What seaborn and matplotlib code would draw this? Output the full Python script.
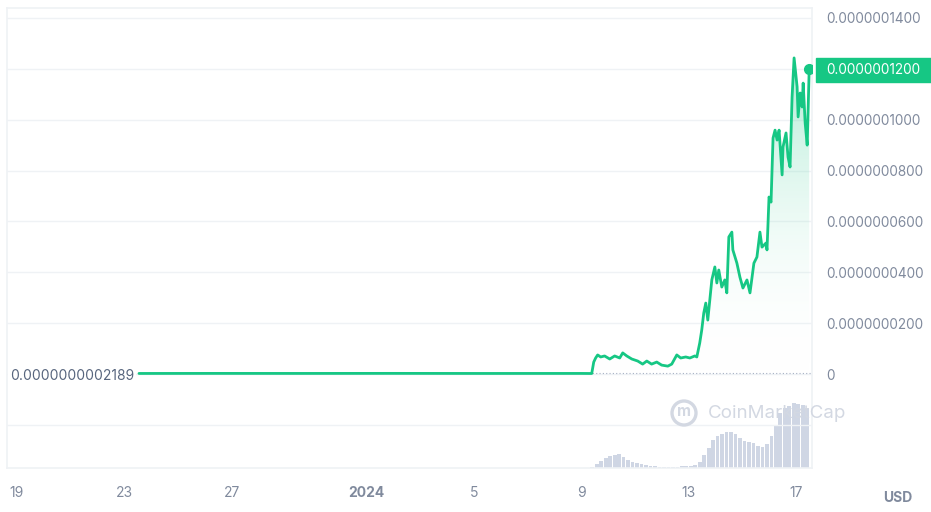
import numpy as np
import pandas as pd
import matplotlib
matplotlib.use("Agg")
import matplotlib.pyplot as plt
import matplotlib.dates as mdates
import seaborn as sns

# ---------------- data ----------------
# hours relative to 2024-01-09 00:00 UTC
price_hours = [-395, -330, -250, -170, -90, 0, 9.5, 11.3, 13, 14.8, 17.5, 21, 25.6, 30, 34.5, 37.2,
               40.8, 45.3, 50.6, 55, 58.7, 63, 67.6, 72, 77.5, 81, 85.5, 89, 93.5, 97.2,
               101.6, 103.4, 106, 107.8, 109.6, 111.4, 113.2, 116.8, 119.5, 121.3, 123,
               125.7, 128.4, 130.2, 132, 134.7, 135.6, 139.2, 141.9, 144.6, 148.2, 150.9,
               154.4, 157.1, 159.8, 161.6, 165.2, 166.1, 167.9, 169.7, 171.5, 173.3, 175.1,
               176.9, 179.6, 180.4, 183.1, 184.9, 186.7, 188.5, 190.3, 193, 193.9, 195.7,
               197.5, 198.4, 200.2, 202, 203.8]
price_usd = [2.189e-10, 2.4e-10, 2.3e-10, 2.5e-10, 2.2e-10, 2.3e-10, 2.0e-10, 4.7e-9, 6.3e-9, 7.5e-9,
             6.7e-9, 7.1e-9, 5.9e-9, 7.1e-9, 6.3e-9, 8.3e-9,
             7.1e-9, 5.9e-9, 5.1e-9, 3.9e-9, 5.1e-9, 3.9e-9, 4.7e-9, 3.5e-9, 3.1e-9, 3.9e-9,
             7.5e-9, 6.3e-9, 6.7e-9, 6.3e-9,
             7.1e-9, 6.7e-9, 1.22e-8, 1.73e-8, 2.40e-8, 2.79e-8, 2.12e-8, 3.70e-8, 4.21e-8,
             3.58e-8, 4.09e-8,
             3.42e-8, 3.70e-8, 3.19e-8, 5.39e-8, 5.58e-8, 4.88e-8, 4.36e-8, 3.81e-8, 3.38e-8,
             3.70e-8, 3.19e-8,
             4.36e-8, 4.60e-8, 5.58e-8, 4.99e-8, 5.15e-8, 4.88e-8, 6.96e-8, 6.76e-8, 9.28e-8,
             9.59e-8, 9.20e-8,
             9.59e-8, 7.83e-8, 8.93e-8, 9.48e-8, 8.53e-8, 8.14e-8, 10.89e-8, 12.43e-8, 11.29e-8,
             10.11e-8, 11.05e-8,
             10.50e-8, 11.44e-8, 9.87e-8, 9.00e-8, 12.00e-8]

vol_hours = [10, 14, 18, 22, 26, 30, 34, 38, 42, 46, 50, 54, 58, 62, 66, 70, 74, 78, 82, 86,
             90, 94, 98, 102, 106, 110, 114, 118, 122, 126, 130, 134, 138, 142, 146, 150,
             154, 158, 162, 166, 170, 174, 178, 182, 186, 190, 194, 198, 202]
volume = [1, 4, 7, 10, 12, 13, 14, 11, 8, 6, 5, 4, 3, 2, 2, 1.5, 1, 1, 1, 1.5,
          2, 2, 2.5, 3, 6, 13, 20, 28, 32, 34, 36, 36, 34, 30, 27, 26,
          25, 22, 21, 24, 32, 42, 55, 60, 62, 65, 64, 63, 60]

ytick_vals = [0, 2e-8, 4e-8, 6e-8, 8e-8, 1e-7, 1.2e-7, 1.4e-7]
ytick_labels = ["0", "0.0000000200", "0.0000000400", "0.0000000600", "0.0000000800",
                "0.0000001000", "", "0.0000001400"]
xtick_dates = ["2023-12-19", "2023-12-23", "2023-12-27", "2024-01-01", "2024-01-05",
               "2024-01-09", "2024-01-13", "2024-01-17"]
xtick_labels = ["19", "23", "27", "2024", "5", "9", "13", "17"]
start_label = "0.0000000002189"
last_label = "0.0000001200"

# ---------------- styling ----------------
sns.set_theme(style="white")
plt.rcParams["font.family"] = ["Inter", "DejaVu Sans"]
GREEN = "#16c784"
GRID = "#eff2f5"
TXT = "#808a9d"
WM = "#d3d8e2"

base = pd.Timestamp("2024-01-09")
df = pd.DataFrame({"t": base + pd.to_timedelta(price_hours, unit="h"), "price": price_usd})
dv = pd.DataFrame({"t": base + pd.to_timedelta(vol_hours, unit="h"), "vol": volume})

W, H = 931, 512
fig = plt.figure(figsize=(W / 100, H / 100), dpi=100)
L, R, T, B = 7, 812, 8, 468
rect = [L / W, 1 - B / H, (R - L) / W, (B - T) / H]

ax_v = fig.add_axes(rect)
ax = fig.add_axes(rect, sharex=ax_v)
ax.patch.set_alpha(0)

x0 = base + pd.Timedelta(hours=-512.9)
x1 = base + pd.Timedelta(hours=206.3)
ylo, yhi = -0.3696e-7, 1.4393e-7

# volume bars
bw = pd.Timedelta(hours=3.3)
ax_v.bar(dv["t"], dv["vol"], width=bw, color="#cfd6e4", linewidth=0, align="center")
ax_v.set_ylim(0, B - T)
ax_v.set_xlim(x0, x1)
ax_v.axis("off")

# grid lines
for v in [-2e-8] + ytick_vals:
    ax.axhline(v, color=GRID, lw=1, zorder=0)

# gradient fill under the line
tnum = mdates.date2num(df["t"])
poly_x = np.concatenate([[tnum[0]], tnum, [tnum[-1]]])
poly_y = np.concatenate([[0], df["price"].values, [0]])
fill = ax.fill(poly_x, poly_y, facecolor="none", edgecolor="none")[0]
grad = np.linspace(0, 1, 256).reshape(-1, 1)
cmap = matplotlib.colors.LinearSegmentedColormap.from_list(
    "g", [(1, 1, 1, 0), (22 / 255, 199 / 255, 132 / 255, 0.34)])
im = ax.imshow(grad, cmap=cmap, aspect="auto", origin="lower",
               extent=[tnum[0], tnum[-1], 0, max(price_usd)], zorder=1)
im.set_clip_path(fill)

# baseline dotted
ax.plot([tnum[0], mdates.date2num(x1)], [price_usd[0]] * 2, color="#a6b0c3",
        lw=0.8, ls=(0, (1, 2)), zorder=2)

sns.lineplot(data=df, x="t", y="price", ax=ax, color=GREEN, lw=2, zorder=3)
ax.plot(tnum[-1], price_usd[-1], "o", color=GREEN, ms=7, zorder=4)

ax.set_xlim(x0, x1)
ax.set_ylim(ylo, yhi)
ax.set_xlabel("")
ax.set_ylabel("")

ax.yaxis.tick_right()
ax.set_yticks(ytick_vals)
ax.set_yticklabels(ytick_labels)
ax.tick_params(axis="y", length=0, pad=10, labelsize=9.8, labelcolor=TXT)

ax.set_xticks(pd.to_datetime(xtick_dates))
ax.set_xticklabels(xtick_labels)
ax.tick_params(axis="x", length=5, width=1, color=GRID, pad=8, labelsize=10, labelcolor=TXT)
for lbl in ax.get_xticklabels():
    if lbl.get_text() == "2024":
        lbl.set_fontweight("bold")

for s in ["left", "bottom", "right", "top"]:
    ax.spines[s].set_visible(True)
    ax.spines[s].set_color(GRID)
    ax.spines[s].set_linewidth(1.2)

# start value label
fig.text(10 / W, 1 - 376 / H, start_label, ha="left", va="center", fontsize=10,
         color="#58667e", bbox=dict(facecolor="white", edgecolor="none", pad=1.5))

# last price tag
fig.patches.append(matplotlib.patches.Rectangle((816 / W, 1 - 82 / H), (W - 816) / W, 24 / H,
                                                transform=fig.transFigure, color=GREEN, zorder=5))
fig.text(826 / W, 1 - 70 / H, last_label, ha="left", va="center", fontsize=9.8,
         color="white", zorder=6)

# currency
fig.text(898 / W, 1 - 498 / H, "USD", ha="center", va="center", fontsize=10,
         color=TXT, fontweight="bold")

# watermark
fig.text(708 / W, 1 - 413 / H, "CoinMarketCap", ha="left", va="center", fontsize=13.5,
         color=WM, zorder=0)
fig.patches.append(matplotlib.patches.Ellipse((684 / W, 1 - 413 / H), 24 / W, 24 / H,
                                              transform=fig.transFigure, fill=False,
                                              ec=WM, lw=2.4))
fig.text(684 / W, 1 - 412 / H, "m", ha="center", va="center", fontsize=11,
         color=WM, fontweight="bold")

fig.savefig("out.png", dpi=100)
